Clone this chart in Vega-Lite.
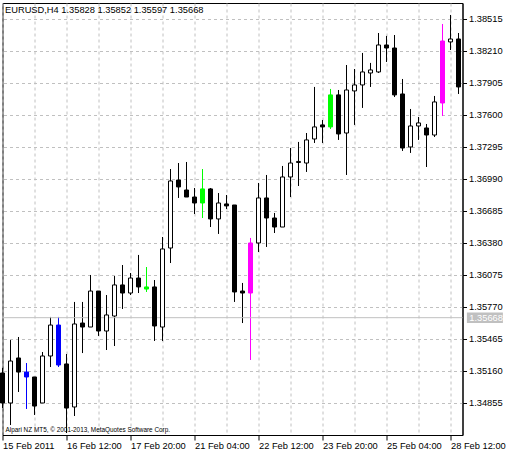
{
  "$schema": "https://vega.github.io/schema/vega-lite/v6.json",
  "width": 460,
  "height": 432,
  "autosize": {"type": "none"},
  "padding": {"left": 2.5, "top": 3, "right": 53.5, "bottom": 22},
  "background": "white",
  "title": {"text": "EURUSD,H4  1.35828 1.35852 1.35597 1.35668", "anchor": "start", "frame": "group", "offset": -12, "dx": 2.5, "font": "Liberation Sans", "fontSize": 9.3, "fontWeight": "normal", "color": "black"},
  "config": {"view": {"stroke": "black", "strokeWidth": 1}, "font": "Liberation Sans", "scale": {"continuousPadding": 0}},
  "data": {"values": [
    {"i":0,"o":1.35141,"h":1.35189,"l":1.34807,"c":1.34855,"k":"down"},
    {"i":1,"o":1.34855,"h":1.35455,"l":1.34645,"c":1.35255,"k":"up"},
    {"i":2,"o":1.35284,"h":1.35484,"l":1.34960,"c":1.35150,"k":"down"},
    {"i":3,"o":1.35150,"h":1.35236,"l":1.34798,"c":1.35103,"k":"blue"},
    {"i":4,"o":1.35103,"h":1.35103,"l":1.34741,"c":1.34826,"k":"down"},
    {"i":5,"o":1.34855,"h":1.35341,"l":1.34855,"c":1.35303,"k":"up"},
    {"i":6,"o":1.35303,"h":1.35675,"l":1.35198,"c":1.35598,"k":"up"},
    {"i":7,"o":1.35598,"h":1.35675,"l":1.35198,"c":1.35217,"k":"blue"},
    {"i":8,"o":1.35227,"h":1.35322,"l":1.34569,"c":1.34807,"k":"down"},
    {"i":9,"o":1.34817,"h":1.35818,"l":1.34731,"c":1.35608,"k":"up"},
    {"i":10,"o":1.35617,"h":1.35818,"l":1.35331,"c":1.35579,"k":"down"},
    {"i":11,"o":1.35579,"h":1.36075,"l":1.35579,"c":1.35922,"k":"up"},
    {"i":12,"o":1.35922,"h":1.35922,"l":1.35494,"c":1.35541,"k":"down"},
    {"i":13,"o":1.35541,"h":1.35884,"l":1.35360,"c":1.35694,"k":"up"},
    {"i":14,"o":1.35684,"h":1.36065,"l":1.35398,"c":1.35980,"k":"up"},
    {"i":15,"o":1.35980,"h":1.36170,"l":1.35751,"c":1.35903,"k":"down"},
    {"i":16,"o":1.35903,"h":1.36094,"l":1.35884,"c":1.36046,"k":"up"},
    {"i":17,"o":1.36046,"h":1.36266,"l":1.35903,"c":1.35961,"k":"down"},
    {"i":18,"o":1.35941,"h":1.36151,"l":1.35913,"c":1.35961,"k":"green"},
    {"i":19,"o":1.35961,"h":1.36027,"l":1.35446,"c":1.35589,"k":"down"},
    {"i":20,"o":1.35579,"h":1.36437,"l":1.35446,"c":1.36323,"k":"up"},
    {"i":21,"o":1.36332,"h":1.37085,"l":1.36189,"c":1.36971,"k":"up"},
    {"i":22,"o":1.36980,"h":1.37142,"l":1.36809,"c":1.36914,"k":"down"},
    {"i":23,"o":1.36885,"h":1.37152,"l":1.36818,"c":1.36818,"k":"down"},
    {"i":24,"o":1.36818,"h":1.36904,"l":1.36656,"c":1.36761,"k":"down"},
    {"i":25,"o":1.36761,"h":1.37085,"l":1.36618,"c":1.36895,"k":"green"},
    {"i":26,"o":1.36895,"h":1.36904,"l":1.36532,"c":1.36609,"k":"down"},
    {"i":27,"o":1.36609,"h":1.36856,"l":1.36466,"c":1.36761,"k":"up"},
    {"i":28,"o":1.36752,"h":1.36837,"l":1.36704,"c":1.36733,"k":"down"},
    {"i":29,"o":1.36742,"h":1.36742,"l":1.35818,"c":1.35913,"k":"down"},
    {"i":30,"o":1.35922,"h":1.35999,"l":1.35617,"c":1.35903,"k":"down"},
    {"i":31,"o":1.35903,"h":1.36428,"l":1.35265,"c":1.36380,"k":"magenta"},
    {"i":32,"o":1.36380,"h":1.36952,"l":1.36294,"c":1.36809,"k":"up"},
    {"i":33,"o":1.36809,"h":1.37028,"l":1.36342,"c":1.36618,"k":"down"},
    {"i":34,"o":1.36618,"h":1.36666,"l":1.36475,"c":1.36532,"k":"down"},
    {"i":35,"o":1.36532,"h":1.37114,"l":1.36532,"c":1.37009,"k":"up"},
    {"i":36,"o":1.37009,"h":1.37285,"l":1.36818,"c":1.37142,"k":"up"},
    {"i":37,"o":1.37147,"h":1.37343,"l":1.36923,"c":1.37157,"k":"up"},
    {"i":38,"o":1.37142,"h":1.37428,"l":1.37057,"c":1.37362,"k":"up"},
    {"i":39,"o":1.37371,"h":1.37867,"l":1.37333,"c":1.37486,"k":"up"},
    {"i":40,"o":1.37505,"h":1.37552,"l":1.37333,"c":1.37486,"k":"down"},
    {"i":41,"o":1.37486,"h":1.37848,"l":1.37466,"c":1.37791,"k":"green"},
    {"i":42,"o":1.37791,"h":1.37838,"l":1.37362,"c":1.37419,"k":"down"},
    {"i":43,"o":1.37428,"h":1.38076,"l":1.37028,"c":1.37838,"k":"up"},
    {"i":44,"o":1.37829,"h":1.38038,"l":1.37505,"c":1.37886,"k":"up"},
    {"i":45,"o":1.37886,"h":1.38191,"l":1.37667,"c":1.38010,"k":"up"},
    {"i":46,"o":1.38000,"h":1.38096,"l":1.37867,"c":1.38029,"k":"up"},
    {"i":47,"o":1.38010,"h":1.38381,"l":1.38000,"c":1.38267,"k":"up"},
    {"i":48,"o":1.38267,"h":1.38353,"l":1.38105,"c":1.38238,"k":"down"},
    {"i":49,"o":1.38238,"h":1.38362,"l":1.37771,"c":1.37791,"k":"down"},
    {"i":50,"o":1.37800,"h":1.37943,"l":1.37257,"c":1.37285,"k":"down"},
    {"i":51,"o":1.37295,"h":1.37657,"l":1.37238,"c":1.37495,"k":"up"},
    {"i":52,"o":1.37495,"h":1.37581,"l":1.37362,"c":1.37524,"k":"up"},
    {"i":53,"o":1.37476,"h":1.37514,"l":1.37104,"c":1.37409,"k":"down"},
    {"i":54,"o":1.37409,"h":1.37781,"l":1.37390,"c":1.37724,"k":"up"},
    {"i":55,"o":1.37714,"h":1.38467,"l":1.37590,"c":1.38305,"k":"magenta"},
    {"i":56,"o":1.38296,"h":1.38553,"l":1.38219,"c":1.38324,"k":"up"},
    {"i":57,"o":1.38324,"h":1.38381,"l":1.37800,"c":1.37867,"k":"down"}
  ]},
  "encoding": {
    "x": {"field": "i", "type": "quantitative",
      "scale": {"domain": [0, 57.5], "nice": false, "zero": false, "padding": 0},
      "axis": {"orient": "bottom", "values": [0,4,8,12,16,20,24,28,32,36,40,44,48,52,56],
        "grid": true, "gridColor": "#c0c0c0", "gridDash": [3,3],
        "tickSize": 5, "tickColor": "black",
        "tickOpacity": {"condition": {"test": "datum.value % 8 === 0", "value": 1}, "value": 0},
        "labelExpr": "datum.value % 8 === 0 ? ['15 Feb 2011','16 Feb 12:00','17 Feb 20:00','21 Feb 04:00','22 Feb 12:00','23 Feb 20:00','25 Feb 04:00','28 Feb 12:00'][datum.value/8] : ''",
        "labelAlign": "left", "labelDx": 1, "labelPadding": 1, "labelBaseline": "top",
        "labelFont": "Liberation Sans", "labelFontSize": 9.3, "labelColor": "black",
        "labelOverlap": false, "labelFlush": false, "labelBound": false, "domainColor": "black",
        "title": "Alpari NZ MT5, © 2001-2013, MetaQuotes Software Corp.",
        "titleX": 2.5, "titleY": -4, "titleAlign": "left", "titleBaseline": "alphabetic",
        "titleFont": "Liberation Sans", "titleFontSize": 6.4, "titleFontWeight": "normal", "titleColor": "black"}},
    "y": {"field": "l", "type": "quantitative",
      "scale": {"domain": [1.3455, 1.38667], "nice": false, "zero": false, "padding": 0},
      "axis": {"orient": "right", "values": [1.34855,1.3516,1.35465,1.3577,1.36075,1.3638,1.36685,1.3699,1.37295,1.376,1.37905,1.3821,1.38515],
        "format": ".5f", "grid": true, "gridColor": "#c0c0c0", "gridDash": [3,3],
        "tickSize": 4, "tickColor": "black", "labelPadding": 2,
        "labelFont": "Liberation Sans", "labelFontSize": 9.3, "labelColor": "black",
        "domainColor": "black", "title": null, "labelOverlap": false, "labelFlush": false, "labelBound": false}}
  },
  "layer": [
    {"mark": {"type": "rule", "strokeWidth": 1},
     "encoding": {
       "y2": {"field": "h"},
       "color": {"field": "k", "type": "nominal", "legend": null,
         "scale": {"domain": ["up","down","blue","green","magenta"], "range": ["#000000","#000000","#0000ff","#00ff00","#ff00ff"]}}
     }},
    {"transform": [{"filter": "datum.i === 57"}],
     "mark": {"type": "rule", "color": "#c0c0c0", "strokeWidth": 1},
     "encoding": {"y": {"datum": 1.35668, "axis": {"orient": "right", "values": [1.34855,1.3516,1.35465,1.3577,1.36075,1.3638,1.36685,1.3699,1.37295,1.376,1.37905,1.3821,1.38515],
        "format": ".5f", "grid": true, "gridColor": "#c0c0c0", "gridDash": [3,3],
        "tickSize": 4, "tickColor": "black", "labelPadding": 2,
        "labelFont": "Liberation Sans", "labelFontSize": 9.3, "labelColor": "black",
        "domainColor": "black", "title": null, "labelOverlap": false, "labelFlush": false, "labelBound": false}},
       "x": {"datum": 0, "axis": {"orient": "bottom", "values": [0,4,8,12,16,20,24,28,32,36,40,44,48,52,56],
        "grid": true, "gridColor": "#c0c0c0", "gridDash": [3,3],
        "tickSize": 5, "tickColor": "black",
        "tickOpacity": {"condition": {"test": "datum.value % 8 === 0", "value": 1}, "value": 0},
        "labelExpr": "datum.value % 8 === 0 ? ['15 Feb 2011','16 Feb 12:00','17 Feb 20:00','21 Feb 04:00','22 Feb 12:00','23 Feb 20:00','25 Feb 04:00','28 Feb 12:00'][datum.value/8] : ''",
        "labelAlign": "left", "labelDx": 1, "labelPadding": 1, "labelBaseline": "top",
        "labelFont": "Liberation Sans", "labelFontSize": 9.3, "labelColor": "black",
        "labelOverlap": false, "labelFlush": false, "labelBound": false, "domainColor": "black",
        "title": "Alpari NZ MT5, © 2001-2013, MetaQuotes Software Corp.",
        "titleX": 2.5, "titleY": -4, "titleAlign": "left", "titleBaseline": "alphabetic",
        "titleFont": "Liberation Sans", "titleFontSize": 6.4, "titleFontWeight": "normal", "titleColor": "black"}},
       "x2": {"datum": 57.5}}},
    {"mark": {"type": "bar", "size": 4, "strokeWidth": 1},
     "encoding": {
       "y": {"field": "o", "type": "quantitative", "axis": {"orient": "right", "values": [1.34855,1.3516,1.35465,1.3577,1.36075,1.3638,1.36685,1.3699,1.37295,1.376,1.37905,1.3821,1.38515],
        "format": ".5f", "grid": true, "gridColor": "#c0c0c0", "gridDash": [3,3],
        "tickSize": 4, "tickColor": "black", "labelPadding": 2,
        "labelFont": "Liberation Sans", "labelFontSize": 9.3, "labelColor": "black",
        "domainColor": "black", "title": null, "labelOverlap": false, "labelFlush": false, "labelBound": false}},
       "y2": {"field": "c"},
       "fill": {"field": "k", "type": "nominal", "legend": null,
         "scale": {"domain": ["up","down","blue","green","magenta"], "range": ["#ffffff","#000000","#0000ff","#00ff00","#ff00ff"]}},
       "stroke": {"field": "k", "type": "nominal", "legend": null,
         "scale": {"domain": ["up","down","blue","green","magenta"], "range": ["#000000","#000000","#0000ff","#00ff00","#ff00ff"]}}
     }},
    {"transform": [{"filter": "datum.i === 57"}],
     "mark": {"type": "rect", "color": "#c0c0c0", "clip": false},
     "encoding": {"x": {"datum": 58.05, "axis": {"orient": "bottom", "values": [0,4,8,12,16,20,24,28,32,36,40,44,48,52,56],
        "grid": true, "gridColor": "#c0c0c0", "gridDash": [3,3],
        "tickSize": 5, "tickColor": "black",
        "tickOpacity": {"condition": {"test": "datum.value % 8 === 0", "value": 1}, "value": 0},
        "labelExpr": "datum.value % 8 === 0 ? ['15 Feb 2011','16 Feb 12:00','17 Feb 20:00','21 Feb 04:00','22 Feb 12:00','23 Feb 20:00','25 Feb 04:00','28 Feb 12:00'][datum.value/8] : ''",
        "labelAlign": "left", "labelDx": 1, "labelPadding": 1, "labelBaseline": "top",
        "labelFont": "Liberation Sans", "labelFontSize": 9.3, "labelColor": "black",
        "labelOverlap": false, "labelFlush": false, "labelBound": false, "domainColor": "black",
        "title": "Alpari NZ MT5, © 2001-2013, MetaQuotes Software Corp.",
        "titleX": 2.5, "titleY": -4, "titleAlign": "left", "titleBaseline": "alphabetic",
        "titleFont": "Liberation Sans", "titleFontSize": 6.4, "titleFontWeight": "normal", "titleColor": "black"}},
       "x2": {"datum": 62.55},
       "y": {"datum": 1.35718, "axis": {"orient": "right", "values": [1.34855,1.3516,1.35465,1.3577,1.36075,1.3638,1.36685,1.3699,1.37295,1.376,1.37905,1.3821,1.38515],
        "format": ".5f", "grid": true, "gridColor": "#c0c0c0", "gridDash": [3,3],
        "tickSize": 4, "tickColor": "black", "labelPadding": 2,
        "labelFont": "Liberation Sans", "labelFontSize": 9.3, "labelColor": "black",
        "domainColor": "black", "title": null, "labelOverlap": false, "labelFlush": false, "labelBound": false}},
       "y2": {"datum": 1.35618}}},
    {"transform": [{"filter": "datum.i === 57"}],
     "mark": {"type": "text", "align": "left", "baseline": "middle", "color": "white", "font": "Liberation Sans", "fontSize": 9.3, "clip": false},
     "encoding": {"x": {"datum": 58.35, "axis": {"orient": "bottom", "values": [0,4,8,12,16,20,24,28,32,36,40,44,48,52,56],
        "grid": true, "gridColor": "#c0c0c0", "gridDash": [3,3],
        "tickSize": 5, "tickColor": "black",
        "tickOpacity": {"condition": {"test": "datum.value % 8 === 0", "value": 1}, "value": 0},
        "labelExpr": "datum.value % 8 === 0 ? ['15 Feb 2011','16 Feb 12:00','17 Feb 20:00','21 Feb 04:00','22 Feb 12:00','23 Feb 20:00','25 Feb 04:00','28 Feb 12:00'][datum.value/8] : ''",
        "labelAlign": "left", "labelDx": 1, "labelPadding": 1, "labelBaseline": "top",
        "labelFont": "Liberation Sans", "labelFontSize": 9.3, "labelColor": "black",
        "labelOverlap": false, "labelFlush": false, "labelBound": false, "domainColor": "black",
        "title": "Alpari NZ MT5, © 2001-2013, MetaQuotes Software Corp.",
        "titleX": 2.5, "titleY": -4, "titleAlign": "left", "titleBaseline": "alphabetic",
        "titleFont": "Liberation Sans", "titleFontSize": 6.4, "titleFontWeight": "normal", "titleColor": "black"}},
       "y": {"datum": 1.35668, "axis": {"orient": "right", "values": [1.34855,1.3516,1.35465,1.3577,1.36075,1.3638,1.36685,1.3699,1.37295,1.376,1.37905,1.3821,1.38515],
        "format": ".5f", "grid": true, "gridColor": "#c0c0c0", "gridDash": [3,3],
        "tickSize": 4, "tickColor": "black", "labelPadding": 2,
        "labelFont": "Liberation Sans", "labelFontSize": 9.3, "labelColor": "black",
        "domainColor": "black", "title": null, "labelOverlap": false, "labelFlush": false, "labelBound": false}},
       "text": {"datum": 1.35668, "format": ".5f"}}}
  ]
}
